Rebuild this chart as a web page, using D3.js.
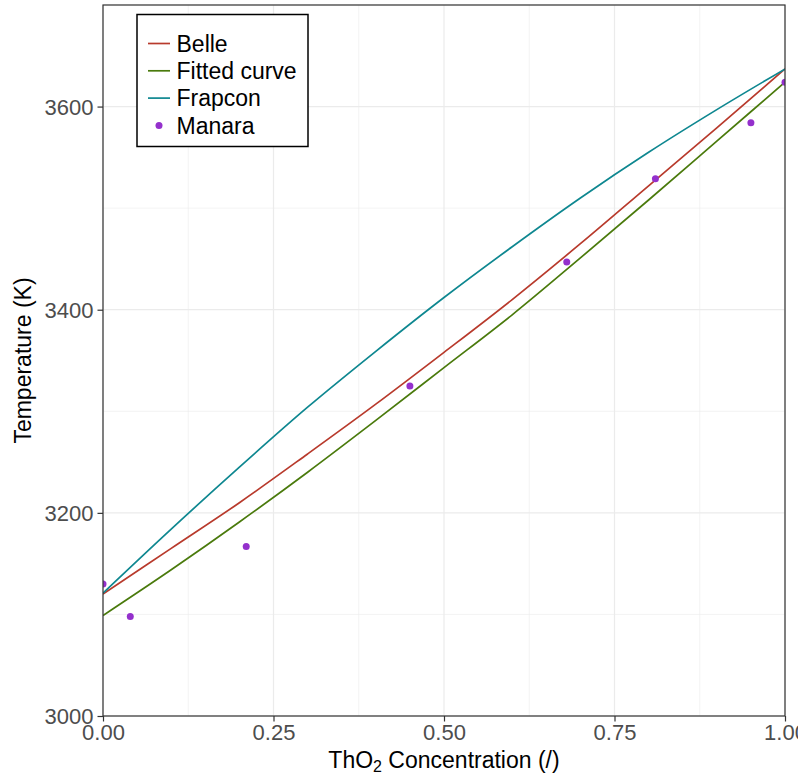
<!DOCTYPE html>
<html>
<head>
<meta charset="utf-8">
<script src="https://cdn.jsdelivr.net/npm/d3@7"></script>
<style>
  html, body { margin: 0; padding: 0; background: #fff; }
  svg { display: block; font-family: "Liberation Sans", Arial, Helvetica, sans-serif; }
</style>
</head>
<body>
<svg id="chart" width="798" height="776"></svg>
<script>
// ThO2 concentration grid used for the model curves
const conc = [0, 0.1, 0.2, 0.3, 0.4, 0.5, 0.6, 0.7, 0.8, 0.9, 1.0];

// Melting temperature (K) for each model
const belle   = [3120, 3165, 3210, 3258, 3307, 3358, 3410, 3465, 3522, 3579, 3637];
const fitted  = [3099, 3144, 3191, 3240, 3291, 3343, 3395, 3451, 3508, 3566, 3624];
const frapcon = [3121, 3184, 3245, 3304, 3359, 3412, 3462, 3510, 3555, 3597, 3637];

// Measured points (Manara)
const manaraX = [0, 0.04, 0.21, 0.45, 0.68, 0.81, 0.95, 1.0];
const manaraY = [3130, 3098, 3167, 3325, 3447, 3529, 3584, 3624];

// Axis ticks
const xTicks = [0, 0.25, 0.5, 0.75, 1.0];
const xTickLabels = ["0.00", "0.25", "0.50", "0.75", "1.00"];
const xMinor = [0.125, 0.375, 0.625, 0.875];
const yTicks = [3000, 3200, 3400, 3600];
const yMinor = [3100, 3300, 3500, 3700];

const seriesNames = ["Belle", "Fitted curve", "Frapcon", "Manara"];
const seriesColors = ["#B83A2C", "#4A7A0C", "#0E8790", "#9430CC"];

const svg = d3.select("#chart");
const panel = { left: 103, right: 785, top: 5, bottom: 716 };

const x = d3.scaleLinear().domain([0, 1]).range([panel.left, panel.right]);
const y = d3.scaleLinear().domain([3000, 3700]).range([panel.bottom, panel.top]);

// Panel background and grid
svg.append("rect")
  .attr("x", panel.left).attr("y", panel.top)
  .attr("width", panel.right - panel.left).attr("height", panel.bottom - panel.top)
  .attr("fill", "#fff");

const grid = svg.append("g");
grid.selectAll(".xminor").data(xMinor).join("line")
  .attr("x1", d => x(d)).attr("x2", d => x(d))
  .attr("y1", panel.top).attr("y2", panel.bottom)
  .attr("stroke", "#EBEBEB").attr("stroke-width", 0.6);
grid.selectAll(".yminor").data(yMinor).join("line")
  .attr("y1", d => y(d)).attr("y2", d => y(d))
  .attr("x1", panel.left).attr("x2", panel.right)
  .attr("stroke", "#EBEBEB").attr("stroke-width", 0.6);
grid.selectAll(".xmajor").data(xTicks).join("line")
  .attr("x1", d => x(d)).attr("x2", d => x(d))
  .attr("y1", panel.top).attr("y2", panel.bottom)
  .attr("stroke", "#EBEBEB").attr("stroke-width", 1.2);
grid.selectAll(".ymajor").data(yTicks).join("line")
  .attr("y1", d => y(d)).attr("y2", d => y(d))
  .attr("x1", panel.left).attr("x2", panel.right)
  .attr("stroke", "#EBEBEB").attr("stroke-width", 1.2);

// Clip marks to the panel
svg.append("defs").append("clipPath").attr("id", "panelClip")
  .append("rect")
  .attr("x", panel.left).attr("y", panel.top)
  .attr("width", panel.right - panel.left).attr("height", panel.bottom - panel.top);

const marks = svg.append("g").attr("clip-path", "url(#panelClip)");

const line = d3.line()
  .x(d => x(d[0]))
  .y(d => y(d[1]))
  .curve(d3.curveMonotoneX);

const curves = [belle, fitted, frapcon];
curves.forEach((vals, i) => {
  marks.append("path")
    .datum(conc.map((c, j) => [c, vals[j]]))
    .attr("fill", "none")
    .attr("stroke", seriesColors[i])
    .attr("stroke-width", 1.7)
    .attr("d", line);
});

marks.selectAll(".pt").data(manaraX.map((c, j) => [c, manaraY[j]])).join("circle")
  .attr("cx", d => x(d[0])).attr("cy", d => y(d[1]))
  .attr("r", 3.5)
  .attr("fill", seriesColors[3]);

// Panel border
svg.append("rect")
  .attr("x", panel.left).attr("y", panel.top)
  .attr("width", panel.right - panel.left).attr("height", panel.bottom - panel.top)
  .attr("fill", "none").attr("stroke", "#333333").attr("stroke-width", 1.2);

// Axes
const xAxis = d3.axisBottom(x)
  .tickValues(xTicks)
  .tickFormat((d, i) => xTickLabels[i])
  .tickSizeInner(5.5).tickSizeOuter(0).tickPadding(3);
const gx = svg.append("g").attr("transform", `translate(0,${panel.bottom})`).call(xAxis);

const yAxis = d3.axisLeft(y)
  .tickValues(yTicks)
  .tickFormat(d3.format("d"))
  .tickSizeInner(5.5).tickSizeOuter(0).tickPadding(4);
const gy = svg.append("g").attr("transform", `translate(${panel.left},0)`).call(yAxis);

[gx, gy].forEach(g => {
  g.select(".domain").remove();
  g.selectAll(".tick line").attr("stroke", "#333333").attr("stroke-width", 1.2);
  g.selectAll(".tick text")
    .attr("fill", "#4D4D4D")
    .style("font-size", "22px")
    .style("font-family", "'Liberation Sans', Arial, Helvetica, sans-serif");
});
gy.selectAll(".tick text").attr("dy", "0.36em");

// Axis titles
const xTitle = svg.append("text")
  .attr("x", (panel.left + panel.right) / 2)
  .attr("y", 768)
  .attr("text-anchor", "middle")
  .attr("fill", "#000")
  .style("font-size", "23px");
xTitle.append("tspan").text("ThO");
xTitle.append("tspan").attr("baseline-shift", "-28%").style("font-size", "16px").text("2");
xTitle.append("tspan").text(" Concentration (/)");

svg.append("text")
  .attr("transform", `translate(31,${(panel.top + panel.bottom) / 2}) rotate(-90)`)
  .attr("text-anchor", "middle")
  .attr("fill", "#000")
  .style("font-size", "23px")
  .text("Temperature (K)");

// Legend
const legend = svg.append("g");
legend.append("rect")
  .attr("x", 137).attr("y", 14.5)
  .attr("width", 171).attr("height", 132)
  .attr("fill", "#fff").attr("stroke", "#000").attr("stroke-width", 1.5);

const rowY = i => 43.5 + i * 27.3;
seriesNames.forEach((name, i) => {
  if (i < 3) {
    legend.append("line")
      .attr("x1", 148).attr("x2", 170)
      .attr("y1", rowY(i)).attr("y2", rowY(i))
      .attr("stroke", seriesColors[i]).attr("stroke-width", 1.7);
  } else {
    legend.append("circle")
      .attr("cx", 159).attr("cy", rowY(i)).attr("r", 3.5)
      .attr("fill", seriesColors[i]);
  }
  legend.append("text")
    .attr("x", 176.5).attr("y", rowY(i))
    .attr("dy", "0.36em")
    .attr("fill", "#000")
    .style("font-size", "23px")
    .text(name);
});
</script>
</body>
</html>
